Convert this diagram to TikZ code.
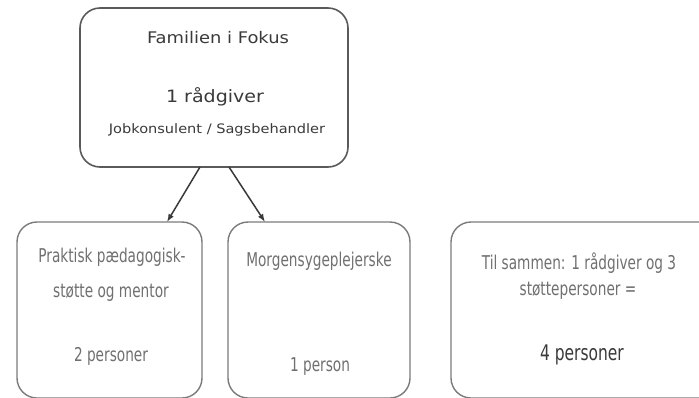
\documentclass[tikz,border=0pt]{standalone}
\usepackage{fontspec}
\setmainfont{DejaVu Sans}
\newfontfamily\topfont[FakeStretch=1.12]{DejaVu Sans}
\newfontfamily\condfont[FakeStretch=0.72]{DejaVu Sans}
\usetikzlibrary{arrows.meta}
\definecolor{boxline}{HTML}{5A5A5A}
\definecolor{toptext}{HTML}{3A3A3A}
\definecolor{lowtext}{HTML}{707070}
\tikzset{
  topbox/.style={draw=boxline, line width=1.6pt, rounded corners=20pt},
  lowbox/.style={draw=boxline!80, line width=1.4pt, rounded corners=20pt},
  conn/.style={draw=toptext, line width=1.5pt, -{Latex[length=8pt,width=6pt]}},
  toplbl/.style={text=toptext, anchor=center},
  lowlbl/.style={text=lowtext, anchor=center, font=\condfont\fontsize{19}{21}\selectfont}
}
\begin{document}
\begin{tikzpicture}[x=1pt,y=-1pt]
\useasboundingbox (0,0) rectangle (699,397);
\clip (0,0) rectangle (699,397);
\fill[white] (0,0) rectangle (699,397);
% boxes
\draw[topbox] (80,8) rectangle (348,167);
\coordinate (topL) at (200,167);
\coordinate (topR) at (229,167);
\draw[lowbox] (17,222) rectangle (202,398);
\draw[lowbox] (228,222) rectangle (410,398);
\draw[lowbox] (451,222) rectangle (720,398);
\coordinate (b1) at (167,222);
\coordinate (b2) at (265,222);
% connectors
\draw[conn] (topL) -- (b1);
\draw[conn] (topR) -- (b2);
% top texts
\node[toplbl, font=\topfont\fontsize{16}{18}\selectfont] (t1) at (218,38) {Familien i Fokus};
\node[toplbl, font=\topfont\fontsize{17}{19}\selectfont] (t2) at (215,97) {1 rådgiver};
\node[toplbl, font=\topfont\fontsize{13}{15}\selectfont] (t3) at (217,130) {Jobkonsulent / Sagsbehandler};
% box 1
\node[lowlbl] (p1) at (112,257) {Praktisk pædagogisk-};
\node[lowlbl] (p2) at (111,293) {støtte og mentor};
\node[lowlbl] (p3) at (111,356) {2 personer};
% box 2
\node[lowlbl] (m1) at (319,261) {Morgensygeplejerske};
\node[lowlbl] (m2) at (320,367) {1 person};
% box 3
\node[lowlbl] (s1) at (579,263) {Til sammen: 1 rådgiver og 3};
\node[lowlbl] (s2) at (578,291) {støttepersoner =};
\node[lowlbl, text=toptext, font=\condfont\fontsize{21.5}{24}\selectfont] (s3) at (582,355) {4 personer};
\end{tikzpicture}
\end{document}
